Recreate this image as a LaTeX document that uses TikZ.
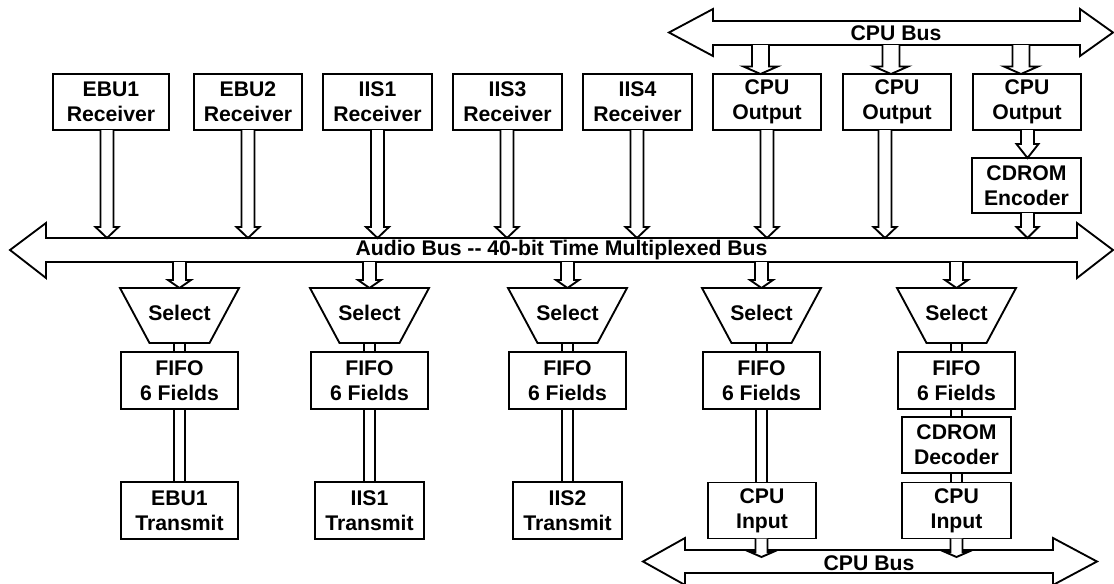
\documentclass[tikz,border=0pt]{standalone}
\usepackage{fontspec}
\setmainfont{Liberation Sans}
\begin{document}
\begin{tikzpicture}[x=0.75pt,y=-0.75pt,
  lw/.style={line width=1.4pt},
  box/.style={draw, lw, fill=white, inner sep=0pt, align=center,
    font=\bfseries\fontsize{15.9}{18.75}\selectfont},
  lbl/.style={inner sep=0pt, font=\bfseries\fontsize{15.9}{18.75}\selectfont},
  arr/.style={draw, lw, fill=white, line join=miter},
  bus/.style={draw, lw, fill=white, line join=miter},
  dbl/.style={lw}]
\useasboundingbox (0,0) rectangle (1114,583);
% block arrow macro: x, ytop, ytip, shaft half, head half, head length
\newcommand\dnarrow[6]{%
  \draw[arr] ({#1-#4},#2) -- ({#1-#4},{#3-#6}) -- ({#1-#5},{#3-#6}) -- (#1,#3)
    -- ({#1+#5},{#3-#6}) -- ({#1+#4},{#3-#6}) -- ({#1+#4},#2);}
% double-headed bus: xl, xhl, xhr, xr, yc, yht, yst, ysb, yhb
\newcommand\busarrow[9]{%
  \draw[bus] (#1,#5) -- (#2,#6) -- (#2,#7) -- (#3,#7) -- (#3,#6) -- (#4,#5)
    -- (#3,#9) -- (#3,#8) -- (#2,#8) -- (#2,#9) -- cycle;}
\newcommand\mkbox[6]{% name, cx, cy, w, h, text
  \node[box, minimum width={#4*0.75pt}, minimum height={#5*0.75pt}] (#1) at (#2,#3) {#6};}

% ---------- buses ----------
\busarrow{669}{713}{1080}{1113}{32.5}{9}{21}{45}{56}
\node[lbl] (cpubustop) at (896,33.5) {CPU Bus};
\busarrow{10}{46}{1077}{1113}{250}{223}{238}{262}{278}
\node[lbl] (audiobus) at (561.5,250) {Audio Bus {-}{-} 40-bit Time Multiplexed Bus};
\busarrow{643}{685}{1053}{1097}{561.5}{538}{550}{573}{585}
\node[lbl] (cpubusbot) at (869,563.5) {CPU Bus};

% ---------- top boxes ----------
\mkbox{ebu1r}{111}{102}{116}{56}{EBU1\\Receiver}
\mkbox{ebu2r}{248}{102}{108}{56}{EBU2\\Receiver}
\mkbox{iis1r}{377.5}{102}{109}{56}{IIS1\\Receiver}
\mkbox{iis3r}{507.5}{102}{109}{56}{IIS3\\Receiver}
\mkbox{iis4r}{637.5}{102}{109}{56}{IIS4\\Receiver}
\mkbox{cpuo1}{767}{102}{108}{56}{CPU\\Output}
\mkbox{cpuo2}{897}{102}{108}{56}{CPU\\Output}
\mkbox{cpuo3}{1027}{102}{108}{56}{CPU\\Output}
\mkbox{cdenc}{1026.5}{185.5}{109}{55}{CDROM\\Encoder}

% arrows from top CPU bus into CPU outputs
\dnarrow{760.5}{45}{74}{8.5}{17}{7.5}
\dnarrow{891}{45}{74}{8.5}{17}{7.5}
\dnarrow{1021}{45}{74}{8.5}{17}{7.5}
% long arrows into audio bus
\dnarrow{107}{130}{238}{6.5}{11.5}{11}
\dnarrow{248}{130}{238}{6.5}{11.5}{11}
\dnarrow{377.5}{130}{238}{6.5}{11.5}{11}
\dnarrow{507}{130}{238}{6.5}{11.5}{11}
\dnarrow{637}{130}{238}{6.5}{11.5}{11}
\dnarrow{767}{130}{238}{6.5}{11.5}{11}
\dnarrow{885}{130}{238}{6.5}{11.5}{11}
\dnarrow{1027.5}{130}{158}{6.5}{11}{14}
\dnarrow{1027.5}{213}{238}{6.5}{11}{11}

% ---------- columns ----------
\foreach \cx/\n in {179.5/1,369.5/2,567.5/3,761.5/4,956.5/5}{
  \dnarrow{\cx}{262}{288}{6.5}{11.5}{8}
  \draw[arr] ({\cx-59.5},288) -- ({\cx+59.5},288) -- ({\cx+30},343) -- ({\cx-30},343) -- cycle;
  \node[lbl] (sel\n) at (\cx,313) {Select};
  \mkbox{fifo\n}{\cx}{380.5}{117}{57}{FIFO\\6 Fields}
  \draw[dbl] ({\cx-5.5},343) -- ({\cx-5.5},352) ({\cx+5.5},343) -- ({\cx+5.5},352);
}
\mkbox{tx1}{179.5}{510.5}{117}{57}{EBU1\\Transmit}
\mkbox{tx2}{369.5}{510.5}{109}{57}{IIS1\\Transmit}
\mkbox{tx3}{567.5}{510.5}{109}{57}{IIS2\\Transmit}
\mkbox{cin4}{762}{510.5}{108}{56}{CPU\\Input}
\mkbox{cdec}{956.5}{445}{109}{56}{CDROM\\Decoder}
\mkbox{cin5}{956.5}{510.5}{109}{56}{CPU\\Input}

\foreach \cx in {179.5,369.5,567.5,761.5}{
  \draw[dbl] ({\cx-5.5},409) -- ({\cx-5.5},482.5) ({\cx+5.5},409) -- ({\cx+5.5},482.5);
}
\draw[dbl] (951,409) -- (951,417) (962,409) -- (962,417);
\draw[dbl] (951,473) -- (951,482.5) (962,473) -- (962,482.5);

% arrows from CPU inputs into bottom bus
\dnarrow{761.5}{538.5}{557}{6}{11.5}{5}
\dnarrow{956.5}{538.5}{557}{6}{11.5}{5}
\end{tikzpicture}
\end{document}
